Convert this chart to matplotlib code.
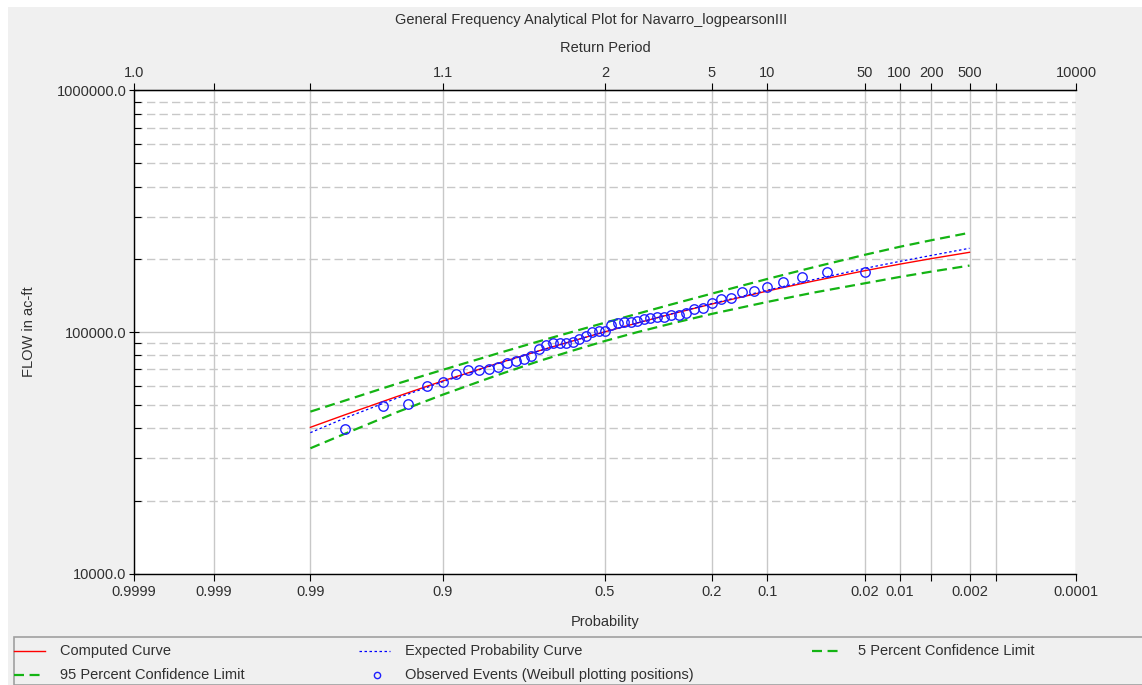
import math
import numpy as np
import matplotlib
matplotlib.use('Agg')
import matplotlib.pyplot as plt
from matplotlib.lines import Line2D
from matplotlib.patches import Rectangle
from matplotlib.ticker import FixedLocator, NullLocator, LogLocator, NullFormatter

plt.rcParams['font.family'] = ['Liberation Sans', 'DejaVu Sans']

# exceedance probabilities where the frequency curves are tabulated
curveProb = [0.99, 0.98, 0.95, 0.9, 0.8, 0.7, 0.6, 0.5, 0.4, 0.3, 0.2, 0.1,
             0.05, 0.02, 0.01, 0.005, 0.002]
computedFlow = [40300, 45400, 54000, 62700, 74300, 83500, 91900, 100200, 108900,
                118700, 130500, 147800, 162500, 179500, 190900, 201300, 213800]
expectedFlow = [38300, 44000, 53200, 62200, 74100, 83400, 91900, 100200, 109000,
                118900, 131000, 149000, 164700, 183500, 196000, 207500, 222200]
upperFlow = [46800, 52000, 61000, 69700, 81700, 91400, 100300, 109300, 118900,
             130100, 144100, 165800, 185300, 208900, 225300, 239800, 257600]
lowerFlow = [33000, 37900, 46500, 55000, 66500, 75700, 83800, 91800, 99800,
             108400, 118800, 133200, 145500, 159200, 169000, 177800, 188400]

# observed events, largest first, at their Weibull plotting positions
obsProb = [0.02, 0.04, 0.06, 0.08, 0.10, 0.12, 0.14, 0.16, 0.18, 0.20,
           0.22, 0.24, 0.26, 0.28, 0.30, 0.32, 0.34, 0.36, 0.38, 0.40,
           0.42, 0.44, 0.46, 0.48, 0.50, 0.52, 0.54, 0.56, 0.58, 0.60,
           0.62, 0.64, 0.66, 0.68, 0.70, 0.72, 0.74, 0.76, 0.78, 0.80,
           0.82, 0.84, 0.86, 0.88, 0.90, 0.92, 0.94, 0.96, 0.98]
obsFlow = [177800, 177800, 168400, 161100, 154000, 148300, 145900, 138700, 137000, 132200,
           125300, 124200, 119400, 117300, 117300, 115700, 115700, 114700, 112900, 111400,
           110300, 109700, 108700, 106600, 100700, 100700, 100200, 96200, 93300, 91200,
           90300, 90300, 89800, 88300, 84800, 79800, 77300, 76000, 74600, 71800,
           70500, 69600, 69600, 67000, 62100, 59600, 50500, 49500, 39650]

probTicks = [0.9999, 0.999, 0.99, 0.9, 0.5, 0.2, 0.1, 0.02, 0.01, 0.005, 0.002, 0.001, 0.0001]
probLabels = ['0.9999', '0.999', '0.99', '0.9', '0.5', '0.2', '0.1', '0.02', '0.01', '',
              '0.002', '', '0.0001']
periodLabels = ['1.0', '', '', '1.1', '2', '5', '10', '50', '100', '200', '500', '', '10000']
flowTicks = [10000, 100000, 1000000]
flowLabels = ['10000.0', '100000.0', '1000000.0']

# rational approximation of the inverse normal cdf (Acklam)
A = [-3.969683028665376e+01, 2.209460984245205e+02, -2.759285104469687e+02,
     1.383577518672690e+02, -3.066479806614716e+01, 2.506628277459239e+00]
B = [-5.447609879822406e+01, 1.615858368580409e+02, -1.556989798598866e+02,
     6.680131188771972e+01, -1.328068155288572e+01]
C = [-7.784894002430293e-03, -3.223964580411365e-01, -2.400758277161838e+00,
     -2.549732539343734e+00, 4.374664141464968e+00, 2.938163982698783e+00]
D = [7.784695709041462e-03, 3.224671290700398e-01, 2.445134137142996e+00,
     3.754408661907416e+00]


def ppf(p):
    p = np.clip(np.asarray(p, dtype=float), 1e-12, 1 - 1e-12)
    plow = 0.02425
    q = p - 0.5
    r = q * q
    mid = (((((A[0] * r + A[1]) * r + A[2]) * r + A[3]) * r + A[4]) * r + A[5]) * q / \
          (((((B[0] * r + B[1]) * r + B[2]) * r + B[3]) * r + B[4]) * r + 1)
    ql = np.sqrt(-2 * np.log(np.minimum(p, 0.5)))
    low = (((((C[0] * ql + C[1]) * ql + C[2]) * ql + C[3]) * ql + C[4]) * ql + C[5]) / \
          ((((D[0] * ql + D[1]) * ql + D[2]) * ql + D[3]) * ql + 1)
    qh = np.sqrt(-2 * np.log(np.minimum(1 - p, 0.5)))
    high = -(((((C[0] * qh + C[1]) * qh + C[2]) * qh + C[3]) * qh + C[4]) * qh + C[5]) / \
           ((((D[0] * qh + D[1]) * qh + D[2]) * qh + D[3]) * qh + 1)
    return np.where(p < plow, low, np.where(p > 1 - plow, high, mid))


vecErf = np.vectorize(math.erf, otypes=[float])


def cdf(z):
    z = np.asarray(z, dtype=float)
    return 0.5 * (1 + vecErf(z / math.sqrt(2)))


W, H = 1142, 685
txtColor = '#303030'
gridColor = '#c8c8c8'
green = '#14b414'

fig = plt.figure(figsize=(W / 100, H / 100), dpi=100, facecolor='white')
fig.add_artist(Rectangle((8 / W, 0), 1, 1 - 7 / H, transform=fig.transFigure,
                         facecolor='#f0f0f0', edgecolor='none', zorder=-10))

ax = fig.add_axes([134 / W, 111.5 / H, 942 / W, 483 / H])
ax.set_facecolor('white')
ax.set_xscale('function', functions=(ppf, cdf))
ax.set_yscale('log')

ax.plot(curveProb, computedFlow, color='#ff0000', lw=1.0, zorder=3)
ax.plot(curveProb, expectedFlow, color='#0000ff', lw=0.9, dashes=(2, 2), zorder=3)
ax.plot(curveProb, upperFlow, color=green, lw=1.6, dashes=(4.5, 2.5), zorder=3)
ax.plot(curveProb, lowerFlow, color=green, lw=1.6, dashes=(4.5, 2.5), zorder=3)
ax.plot(obsProb, obsFlow, ls='none', marker='o', ms=6.8, mfc='none', mec='#2020ff',
        mew=1.0, zorder=4)

ax.set_xlim(0.9999, 0.0001)
ax.set_ylim(10000, 1000000)

ax.xaxis.set_major_locator(FixedLocator(probTicks))
ax.xaxis.set_minor_locator(NullLocator())
ax.set_xticklabels(probLabels)
ax.yaxis.set_major_locator(FixedLocator(flowTicks))
ax.set_yticklabels(flowLabels)
ax.yaxis.set_minor_locator(LogLocator(base=10, subs=np.arange(2, 10)))
ax.yaxis.set_minor_formatter(NullFormatter())

ax.set_axisbelow(True)
ax.grid(which='major', axis='both', color=gridColor, lw=1.0, ls='-')
ax.grid(which='minor', axis='y', color=gridColor, lw=1.0, ls=(0, (6, 3)))

ax.tick_params(axis='x', which='major', direction='out', length=5, width=0.8,
               labelsize=10.5, labelcolor=txtColor, pad=3.5)
ax.tick_params(axis='y', which='major', direction='inout', length=7, width=0.8,
               labelsize=10.5, labelcolor=txtColor, pad=2)
ax.tick_params(axis='y', which='minor', direction='in', length=5, width=0.8)
ax.spines['right'].set_visible(False)
for s in ['left', 'bottom', 'top']:
    ax.spines[s].set_linewidth(1.0)

ax.set_xlabel('Probability', fontsize=10.5, color=txtColor, labelpad=11)
ax.set_ylabel('FLOW in ac-ft', fontsize=10.5, color=txtColor, labelpad=15)

# return period axis along the top
ax2 = ax.twiny()
ax2.set_xscale('function', functions=(ppf, cdf))
ax2.set_xlim(0.9999, 0.0001)
ax2.xaxis.set_major_locator(FixedLocator(probTicks))
ax2.xaxis.set_minor_locator(NullLocator())
ax2.set_xticklabels(periodLabels)
ax2.tick_params(axis='x', which='major', direction='out', length=5, width=0.8,
                labelsize=10.5, labelcolor=txtColor, pad=2.5)
for s in ['left', 'right', 'bottom']:
    ax2.spines[s].set_visible(False)
ax2.set_xlabel('Return Period', fontsize=10.5, color=txtColor, labelpad=10)

fig.text(591 / W, 1 - 20 / H, 'General Frequency Analytical Plot for Navarro_logpearsonIII',
         ha='center', va='center', fontsize=10.5, color=txtColor)

# legend panel
fig.add_artist(Rectangle((14 / W, 0), 1, (685 - 637) / H, transform=fig.transFigure,
                         facecolor='none', edgecolor='#a0a0a0', lw=1.2))


def legendItem(x, y, text, **style):
    yf = 1 - y / H
    if style.get('marker'):
        fig.add_artist(Line2D([(x + 18) / W], [yf], transform=fig.transFigure, ls='none', **style))
    else:
        fig.add_artist(Line2D([x / W, (x + 31) / W], [yf, yf], transform=fig.transFigure, **style))
    fig.text((x + 46) / W, yf, text, ha='left', va='center', fontsize=10.5, color=txtColor)


legendItem(14, 651, 'Computed Curve', color='#ff0000', lw=1.0)
legendItem(359, 651, 'Expected Probability Curve', color='#0000ff', lw=0.9, dashes=(2, 2))
legendItem(812, 651, '5 Percent Confidence Limit', color=green, lw=1.6, dashes=(4.5, 2.5))
legendItem(14, 675, '95 Percent Confidence Limit', color=green, lw=1.6, dashes=(4.5, 2.5))
legendItem(359, 675, 'Observed Events (Weibull plotting positions)', marker='o', ms=4.5,
           mfc='none', mec='#2020ff', mew=1.0)

fig.savefig('out.png', dpi=100, facecolor=fig.get_facecolor())
